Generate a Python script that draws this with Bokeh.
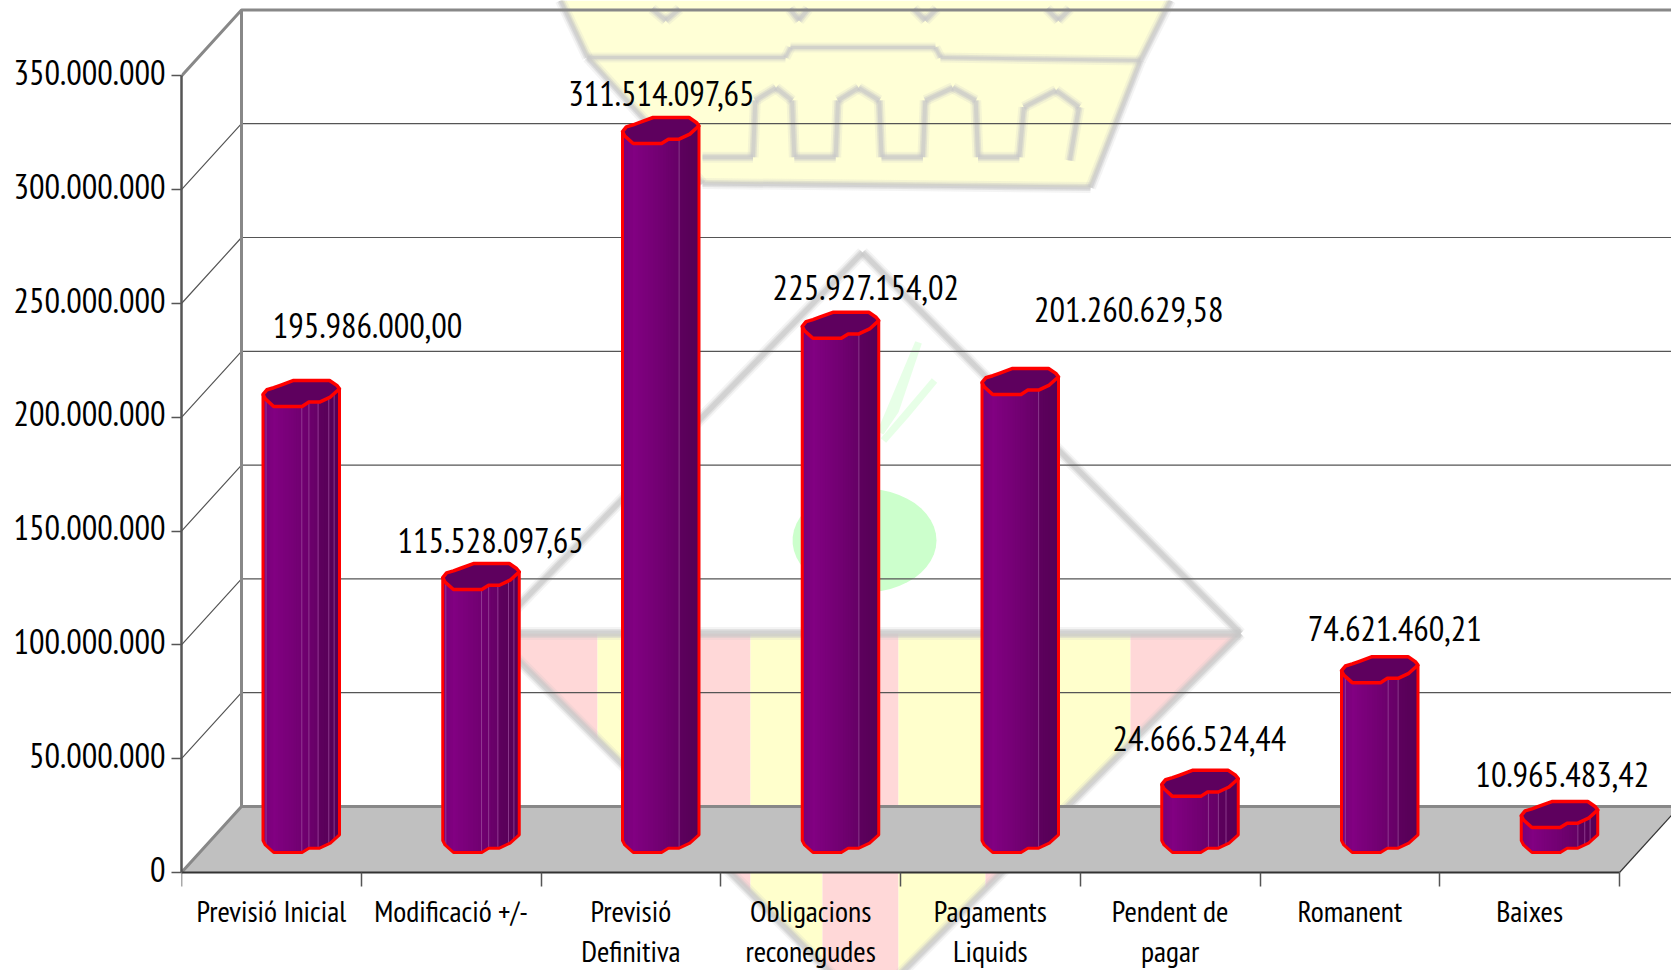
import numpy as np
from bokeh.plotting import figure
from bokeh.embed import file_html
from bokeh.resources import INLINE
from bokeh.core.properties import value
from bokeh.models import LinearAxis, FixedTicker, Range1d, PolyAnnotation

# ---- data ----
cat_line1 = ["Previsió Inicial", "Modificació +/-", "Previsió", "Obligacions",
             "Pagaments", "Pendent de", "Romanent", "Baixes"]
cat_line2 = ["", "", "Definitiva", "reconegudes", "Liquids", "pagar", "", ""]
values = [195986000.00, 115528097.65, 311514097.65, 225927154.02,
          201260629.58, 24666524.44, 74621460.21, 10965483.42]
value_labels = ["195.986.000,00", "115.528.097,65", "311.514.097,65", "225.927.154,02",
                "201.260.629,58", "24.666.524,44", "74.621.460,21", "10.965.483,42"]
y_ticks = [0, 50000000, 100000000, 150000000, 200000000, 250000000, 300000000, 350000000]

# ---- layout (page pixels) ----
FONT = "PT Sans Narrow, Archivo Narrow, Liberation Sans"
X0, STEP = 181.0, 179.75        # front-left corner, category width
Y0, PX50M = 872, 113.8          # zero line, pixels per 50 million
PXV = PX50M / 50e6
W_PAGE, H_PAGE = 1671, 970
x_end = (W_PAGE - X0) / STEP
y_end = Y0 / PXV
y_start = -(H_PAGE - Y0) / PXV  # the plot frame runs on to the foot of the page

def ux(px): return px / STEP          # pixel length -> x data
def uy(px): return px / PXV           # pixel length -> y data

DEPTH_X, DEPTH_Y = ux(60), uy(66)
n = len(values)

p = figure(width=W_PAGE, height=H_PAGE, output_backend="svg", toolbar_location=None,
           x_range=Range1d(0, x_end), y_range=Range1d(y_start, y_end),
           frame_width=W_PAGE - int(X0), frame_height=H_PAGE,
           min_border_left=int(X0), min_border_right=0, min_border_top=0,
           min_border_bottom=0, x_axis_type=None, y_axis_type=None)
p.outline_line_color = None
p.background_fill_color = "white"
p.border_fill_color = None
p.grid.visible = False

# ---- faint coat-of-arms watermark behind the chart (canvas pixels) ----
def poly(xs, ys, fill=None, line=None, lw=0, alpha=1.0):
    p.add_layout(PolyAnnotation(
        xs=list(xs), ys=list(ys), xs_units="canvas", ys_units="canvas",
        level="underlay", fill_color=fill, fill_alpha=1.0 if fill else 0,
        line_color=line, line_width=lw, line_alpha=alpha if line else 0))

def stroke(pts, w=7, col="#c8c8c8"):
    for layer_w, a in ((w + 5, 0.2), (w + 1, 0.4), (w - 2, 0.6)):
        for (x1, y1), (x2, y2) in zip(pts[:-1], pts[1:]):
            poly([x1, x2], [y1, y2], line=col, lw=layer_w, alpha=a)

PINK, YEL, GRN = "#ffd8d8", "#ffffcc", "#ccffcc"
# crown
crown = [(560, 0), (587, 57), (702, 183), (1090, 187), (1140, 60), (1170, 0)]
poly([c[0] for c in crown], [c[1] for c in crown], fill="#ffffd6")
stroke(crown, 6)
stroke([(587, 57), (785, 57), (790, 47), (935, 47), (940, 57), (1140, 60)], 5)
def z7(x, y): return (500 + x / 2.178, y / 3)
wave = [(440, 470), (550, 470), (555, 300), (600, 262), (635, 300), (640, 470), (730, 470), (735, 300),
        (780, 262), (825, 300), (830, 470), (920, 470), (925, 300), (985, 262), (1035, 300), (1040, 470),
        (1130, 470), (1140, 320), (1210, 270), (1260, 320), (1240, 480)]
stroke([z7(*q) for q in wave], 6)
for a, b in ((330, 390), (630, 670), (900, 950), (1190, 1240)):
    stroke([z7(a, 25), z7((a + b) / 2, 60), z7(b, 25)], 6)
# lower shield stripes, clipped to the triangle by their own slanted edges
LEFT, RIGHT, APEX_Y, TOP_Y = 491.0, 1240.0, 1008.0, 633.0
TIP_X = (LEFT + RIGHT) / 2
def edge_y(x):
    return TOP_Y + (APEX_Y - TOP_Y) * (x - LEFT) / (TIP_X - LEFT) if x <= TIP_X else \
        TOP_Y + (APEX_Y - TOP_Y) * (RIGHT - x) / (RIGHT - TIP_X)
stripes = [(491, 597, PINK), (597, 680, YEL), (680, 750, PINK), (750, 822, YEL), (822, 898, PINK),
           (898, 985, YEL), (985, 1058, PINK), (1058, 1130, YEL), (1130, 1240, PINK)]
for a, b, c in stripes:
    xs = sorted([a, b] + ([TIP_X] if a < TIP_X < b else []), reverse=True)
    poly([a, b] + xs, [TOP_Y, TOP_Y] + [edge_y(x) for x in xs], fill=c)
# green fruit and leaves
ang = np.linspace(0, 2 * np.pi, 48)
poly(864 + 72 * np.cos(ang), 540 + 52 * np.sin(ang), fill=GRN)
for seg in (((880, 432), (895, 410), (918, 342)), ((883, 440), (905, 415), (934, 380))):
    poly([s[0] for s in seg], [s[1] for s in seg], line="#e4ffe4", lw=7, alpha=0.9)
# diamond outline
stroke([(LEFT, TOP_Y), (862, 252), (RIGHT, TOP_Y), (TIP_X, APEX_Y), (LEFT, TOP_Y)], 7)
stroke([(LEFT, TOP_Y), (RIGHT, TOP_Y)], 8)

# ---- 3-D box ----
p.patch([0, 8, 8 + DEPTH_X, DEPTH_X], [0, 0, DEPTH_Y, DEPTH_Y], fill_color="#c0c0c0", line_color=None)
for t in y_ticks[1:-1]:
    p.multi_line([[0, DEPTH_X, x_end]], [[t, t + DEPTH_Y, t + DEPTH_Y]], line_color="#555555", line_width=1.2)
top = y_ticks[-1]
p.multi_line([[DEPTH_X, DEPTH_X], [0, DEPTH_X, x_end], [0, DEPTH_X, x_end]],
             [[DEPTH_Y, top + DEPTH_Y], [top, top + DEPTH_Y, top + DEPTH_Y], [0, DEPTH_Y, DEPTH_Y]],
             line_color="#888888", line_width=3)
p.line([8, 8 + DEPTH_X], [0, DEPTH_Y], line_color="#333333", line_width=1.2)

# ---- bars ----
BAR_LEFT, BAR_W = ux(81.5), ux(76.5)
BASE, CAP = uy(20), uy(26)
front_u = [0, .03, .14, .51, .60, .74, .88, 1]
front_v = [.46, .29, 0, 0, .167, .167, .36, .68]
back_u = [1, .965, .87, .40, .226, .14, .05, 0]
back_v = [.68, .81, 1, 1, .81, .72, .64, .46]
shade_u = [0, .15, .5, .7399, .74, 1]
shade_r = [0x78, 0x82, 0x72, 0x66, 0x5e, 0x56]
facet_lines = [[.04, .507, .6, .72, .86, .93], [.04, .507, .6, .72, .86, .93], [.74], [.74], [.74],
               [.61, .74, .84], [.05, .61, .74], [.74, .83, .9]]
strips = np.linspace(0, 1, 31)
for i, v in enumerate(values):
    x_left = i + BAR_LEFT
    y_b, y_t = BASE, BASE + v
    sx, sy, cols = [], [], []
    for a, b in zip(strips[:-1], strips[1:]):
        # each strip runs on under the next one, so no seams show
        c = min(b + 0.04, 1.0)
        va, vb = np.interp([a, c], front_u, front_v)
        sx.append([x_left + a * BAR_W, x_left + c * BAR_W, x_left + c * BAR_W, x_left + a * BAR_W])
        sy.append([y_b + va * CAP, y_b + vb * CAP, y_t + vb * CAP, y_t + va * CAP])
        r = int(np.interp((a + b) / 2, shade_u, shade_r))
        cols.append(f"#{r:02x}00{r:02x}")
    p.patches(sx, sy, fill_color=cols, line_color=None)
    lx, ly = [], []
    for u in facet_lines[i]:
        vf = float(np.interp(u, front_u, front_v))
        lx.append([x_left + u * BAR_W] * 2)
        ly.append([y_b + vf * CAP, y_t + vf * CAP])
    p.multi_line(lx, ly, line_color="#a050a0", line_width=1, line_alpha=0.7)
    cap_u = front_u + back_u[1:]
    cap_v = front_v + back_v[1:]
    p.patch([x_left + u * BAR_W for u in cap_u], [y_t + q * CAP for q in cap_v],
            fill_color="#5e005e", line_color="#ff0000", line_width=3.5, line_join="round")
    p.line([x_left + u * BAR_W for u in [0] + front_u + [1]],
           [y_t + front_v[0] * CAP] + [y_b + q * CAP for q in front_v] + [y_t + front_v[-1] * CAP],
           line_color="#ff0000", line_width=3, line_join="round")

# ---- value labels ----
label_dx = [1.035, .72, .67, .807, 1.27, .663, .75, .682]
label_dy = [44.3e6, 30.5e6, 30.7e6, 31.2e6, 46.0e6, 34.4e6, 32.5e6, 32.2e6]
p.text([i + d for i, d in enumerate(label_dx)], [v + d for v, d in zip(values, label_dy)],
       text=value_labels, text_font=value(FONT), text_font_size="34.5px", text_color="black",
       text_align="center", text_baseline="middle")

# ---- axes ----
# y axis line and ticks
yax = LinearAxis(ticker=FixedTicker(ticks=y_ticks), bounds=(0, top),
                 major_label_overrides={t: "" for t in y_ticks})
yax.axis_line_color = "#555555"; yax.axis_line_width = 2.5
yax.major_tick_line_color = "#555555"; yax.major_tick_line_width = 1.5
yax.major_tick_out = 10; yax.major_tick_in = 0; yax.minor_tick_line_color = None
yax.major_label_text_font_size = "1px"; yax.major_label_standoff = 0
p.add_layout(yax, "left")
# y tick labels sit a little above their ticks in the reference
LABEL_LIFT = uy(3.5)
ylab = LinearAxis(ticker=FixedTicker(ticks=[t + LABEL_LIFT for t in y_ticks]),
                  major_label_overrides={t + LABEL_LIFT: f"{t:,}".replace(",", ".") for t in y_ticks})
ylab.axis_line_color = None; ylab.major_tick_line_color = None; ylab.minor_tick_line_color = None
ylab.major_tick_out = 0; ylab.major_tick_in = 0
ylab.major_label_text_font = FONT; ylab.major_label_text_font_size = "34.5px"
ylab.major_label_text_color = "black"; ylab.major_label_standoff = 6
p.add_layout(ylab, "left")

# x axes are pinned to the zero line, inside the full-height frame
xax = LinearAxis(ticker=FixedTicker(ticks=list(range(n + 1))), bounds=(0, n), fixed_location=0,
                 major_label_overrides={t: "" for t in range(n + 1)})
xax.axis_line_color = "#333333"; xax.axis_line_width = 2
xax.major_tick_line_color = "#555555"; xax.major_tick_line_width = 1.5
xax.major_tick_out = 14; xax.major_tick_in = 0; xax.minor_tick_line_color = None
xax.major_label_standoff = 0; xax.major_label_text_font_size = "1px"
p.add_layout(xax, "below")

def label_axis(lines, standoff):
    idx = [i for i, s in enumerate(lines) if s]
    ax = LinearAxis(ticker=FixedTicker(ticks=[i + .5 for i in idx]), fixed_location=0,
                    major_label_overrides={i + .5: lines[i] for i in idx})
    ax.axis_line_color = None; ax.major_tick_line_color = None; ax.minor_tick_line_color = None
    ax.major_tick_out = 0; ax.major_tick_in = 0
    ax.major_label_text_font = FONT; ax.major_label_text_font_size = "30px"
    ax.major_label_text_color = "black"; ax.major_label_standoff = standoff
    p.add_layout(ax, "below")

label_axis(cat_line1, 18)
label_axis(cat_line2, 58)

open("out.html", "w").write(file_html(p, INLINE))
